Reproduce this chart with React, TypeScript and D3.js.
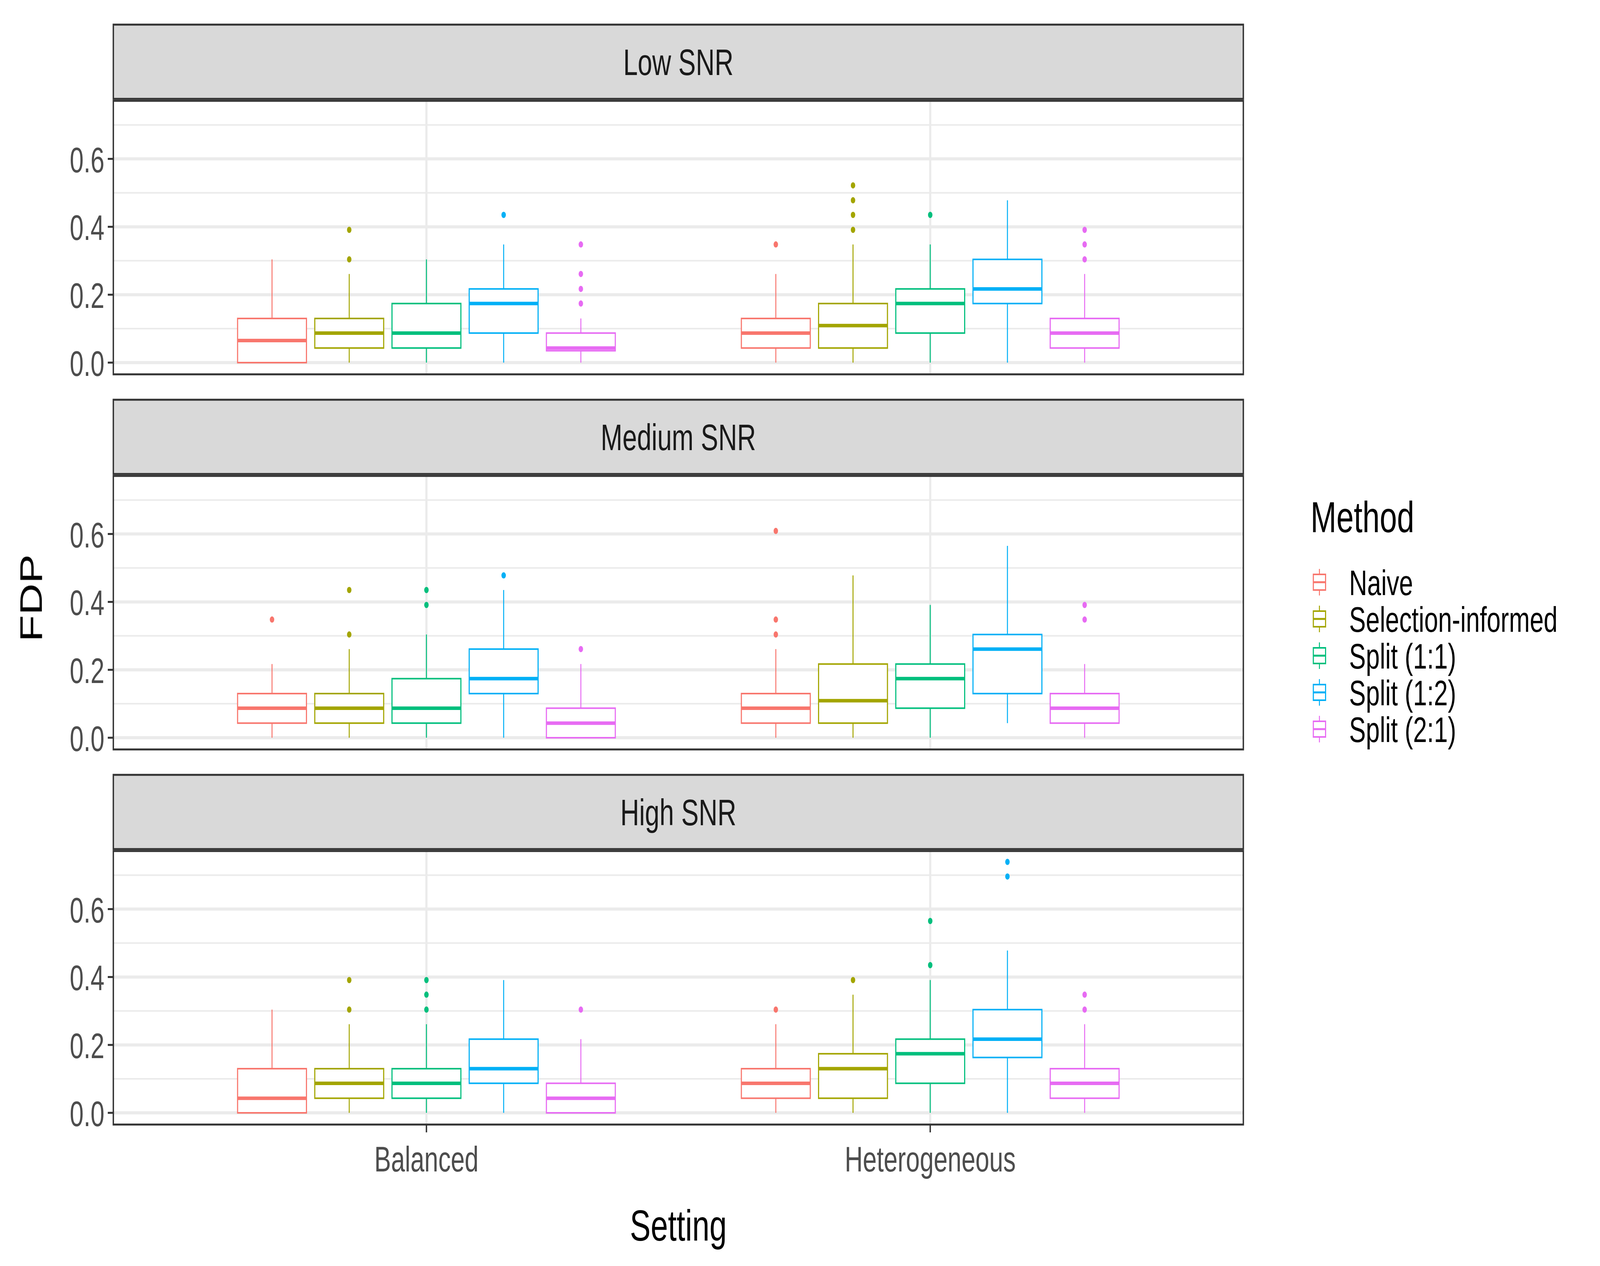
import React from 'react';
import * as d3 from 'd3';

const settings = ['Balanced', 'Heterogeneous'];
const methods = ['Naive', 'Selection-informed', 'Split (1:1)', 'Split (1:2)', 'Split (2:1)'];
const colors = ['#F8766D', '#A3A500', '#00BF7D', '#00B0F6', '#E76BF3'];
const snrs = ['Low SNR', 'Medium SNR', 'High SNR'];
const yTicks = [0, 0.2, 0.4, 0.6];
const yMinor = [0.1, 0.3, 0.5, 0.7];

// [low, q1, median, q3, high], per snr -> setting -> method
const stats: number[][][][] = [
  [
    [[0, 0, 0.065, 0.13, 0.304], [0, 0.043, 0.087, 0.13, 0.261], [0, 0.043, 0.087, 0.174, 0.304], [0, 0.087, 0.174, 0.217, 0.348], [0, 0.035, 0.043, 0.087, 0.13]],
    [[0, 0.043, 0.087, 0.13, 0.261], [0, 0.043, 0.109, 0.174, 0.348], [0, 0.087, 0.174, 0.217, 0.348], [0, 0.174, 0.217, 0.304, 0.478], [0, 0.043, 0.087, 0.13, 0.261]],
  ],
  [
    [[0, 0.043, 0.087, 0.13, 0.217], [0, 0.043, 0.087, 0.13, 0.261], [0, 0.043, 0.087, 0.174, 0.304], [0, 0.13, 0.174, 0.261, 0.435], [0, 0, 0.043, 0.087, 0.217]],
    [[0, 0.043, 0.087, 0.13, 0.261], [0, 0.043, 0.109, 0.217, 0.478], [0, 0.087, 0.174, 0.217, 0.391], [0.043, 0.13, 0.261, 0.304, 0.565], [0, 0.043, 0.087, 0.13, 0.217]],
  ],
  [
    [[0, 0, 0.043, 0.13, 0.304], [0, 0.043, 0.087, 0.13, 0.261], [0, 0.043, 0.087, 0.13, 0.261], [0, 0.087, 0.13, 0.217, 0.391], [0, 0, 0.043, 0.087, 0.217]],
    [[0, 0.043, 0.087, 0.13, 0.261], [0, 0.043, 0.13, 0.174, 0.348], [0, 0.087, 0.174, 0.217, 0.391], [0, 0.163, 0.217, 0.304, 0.478], [0, 0.043, 0.087, 0.13, 0.261]],
  ],
];

const outliers: number[][][][] = [
  [
    [[], [0.304, 0.391], [], [0.435], [0.174, 0.217, 0.261, 0.348]],
    [[0.348], [0.391, 0.435, 0.478, 0.522], [0.435], [], [0.304, 0.348, 0.391]],
  ],
  [
    [[0.348], [0.304, 0.435], [0.391, 0.435], [0.478], [0.261]],
    [[0.304, 0.348, 0.609], [], [], [], [0.348, 0.391]],
  ],
  [
    [[], [0.304, 0.391], [0.304, 0.348, 0.391], [], [0.304]],
    [[0.304], [0.391], [0.435, 0.565], [0.696, 0.739], [0.304, 0.348]],
  ],
];

const W = 5760;
const H = 3240;
const left = 408;
const right = 4476;
const stripH = 190;
const panelH = 700;
const step = 960;
const top0 = 63;
const font = 'Liberation Sans, Arial, sans-serif';

export default function App() {
  const x = d3.scaleBand().domain(settings).range([left, right]).paddingOuter(0.2).paddingInner(0.157);
  const unit = (3370 - 1517);
  const xc = (s: string) => (x(s) as number) + x.bandwidth() / 2;
  const dodge = d3.scaleBand().domain(methods).range([-0.375 * unit, 0.375 * unit]);
  const boxW = 248;

  return (
    <svg
      viewBox={`0 0 ${W} ${H}`}
      preserveAspectRatio="none"
      style={{ fontFamily: font, display: 'block', position: 'fixed', left: 0, top: 0, width: '100vw', height: '100vh' }}
    >
      <rect width={W} height={H} fill="#fff" />
      {snrs.map((snr, si) => {
        const sTop = top0 + si * step;
        const pTop = sTop + stripH + 5;
        const pBot = pTop + panelH;
        const y = d3.scaleLinear().domain([-0.0345, 0.771]).range([pBot, pTop]);
        return (
          <g key={snr}>
            <rect x={left} y={sTop} width={right - left} height={stripH} fill="#D9D9D9" stroke="#333" strokeWidth={5} />
            <text x={(left + right) / 2} y={sTop + stripH / 2 + 34} textAnchor="middle" fontSize={94} fill="#1A1A1A">{snr}</text>
            {yMinor.map(t => <line key={t} x1={left} x2={right} y1={y(t)} y2={y(t)} stroke="#EBEBEB" strokeWidth={4} />)}
            {yTicks.map(t => <line key={t} x1={left} x2={right} y1={y(t)} y2={y(t)} stroke="#EBEBEB" strokeWidth={8} />)}
            {settings.map(s => <line key={s} x1={xc(s)} x2={xc(s)} y1={pTop} y2={pBot} stroke="#EBEBEB" strokeWidth={8} />)}
            {settings.map((s, gi) => methods.map((m, mi) => {
              const st = stats[si][gi][mi];
              const cx = xc(s) + (dodge(m) as number) + dodge.bandwidth() / 2;
              const c = colors[mi];
              return (
                <g key={s + m}>
                  <line x1={cx} x2={cx} y1={y(st[3])} y2={y(st[4])} stroke={c} strokeWidth={3.5} />
                  <line x1={cx} x2={cx} y1={y(st[1])} y2={y(st[0])} stroke={c} strokeWidth={3.5} />
                  <rect x={cx - boxW / 2} y={y(st[3])} width={boxW} height={Math.max(0, y(st[1]) - y(st[3]))} fill="#fff" stroke={c} strokeWidth={4} />
                  <line x1={cx - boxW / 2} x2={cx + boxW / 2} y1={y(st[2])} y2={y(st[2])} stroke={c} strokeWidth={9} />
                  {outliers[si][gi][mi].map((o, k) => <circle key={k} cx={cx} cy={y(o)} r={8} fill={c} />)}
                </g>
              );
            }))}
            <rect x={left} y={pTop} width={right - left} height={panelH} fill="none" stroke="#333" strokeWidth={5} />
            {yTicks.map(t => (
              <g key={t}>
                <line x1={left - 20} x2={left} y1={y(t)} y2={y(t)} stroke="#333" strokeWidth={5} />
                <text x={left - 32} y={y(t) + 34} textAnchor="end" fontSize={90} fill="#4D4D4D">{t.toFixed(1)}</text>
              </g>
            ))}
            {si === 2 && settings.map(s => (
              <g key={s}>
                <line x1={xc(s)} x2={xc(s)} y1={pBot} y2={pBot + 20} stroke="#333" strokeWidth={5} />
                <text x={xc(s)} y={pBot + 120} textAnchor="middle" fontSize={90} fill="#4D4D4D">{s}</text>
              </g>
            ))}
          </g>
        );
      })}
      <text x={(left + right) / 2} y={3175} textAnchor="middle" fontSize={112} fill="#000">Setting</text>
      <text transform={`translate(150,${(top0 + 2878) / 2 + 60}) rotate(-90)`} textAnchor="middle" fontSize={112} fill="#000">FDP</text>
      <text x={4718} y={1362} fontSize={112} fill="#000">Method</text>
      {methods.map((m, i) => {
        const cy = 1490 + i * 94;
        const kx = 4750;
        return (
          <g key={m}>
            <line x1={kx} x2={kx} y1={cy - 34} y2={cy + 34} stroke={colors[i]} strokeWidth={3.5} />
            <rect x={kx - 22} y={cy - 20} width={44} height={40} fill="#fff" stroke={colors[i]} strokeWidth={4} />
            <line x1={kx - 22} x2={kx + 22} y1={cy} y2={cy} stroke={colors[i]} strokeWidth={5} />
            <text x={4857} y={cy + 33} fontSize={90} fill="#000">{m}</text>
          </g>
        );
      })}
    </svg>
  );
}
